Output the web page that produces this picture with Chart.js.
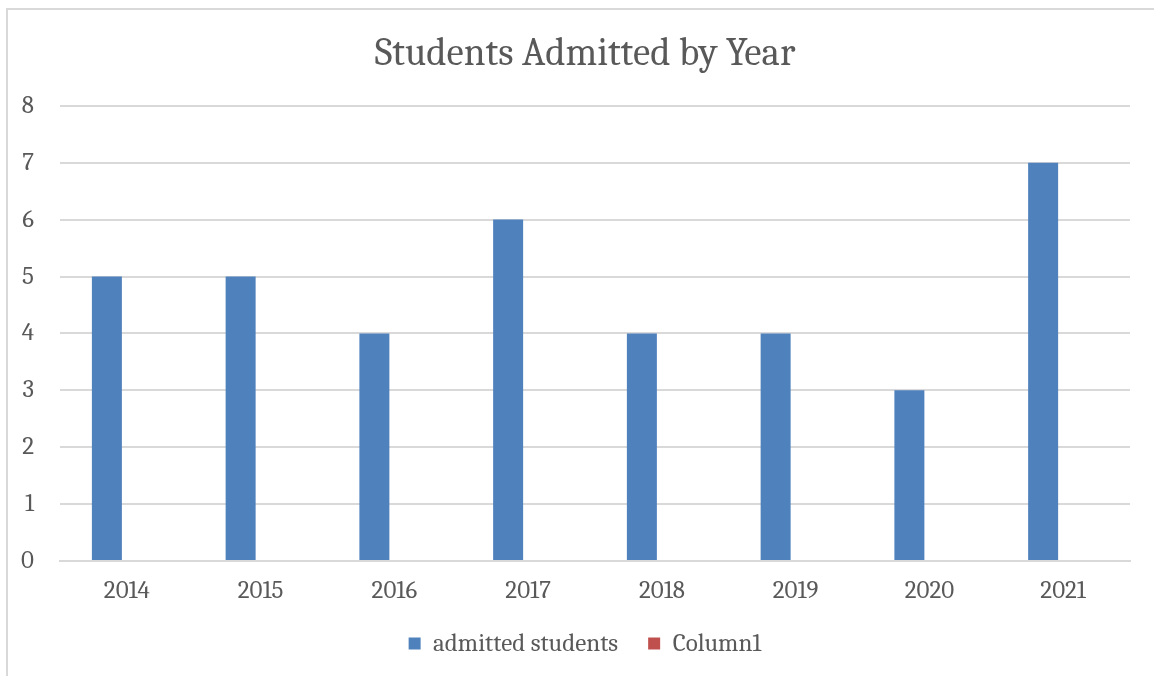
<!DOCTYPE html>
<html>
<head>
<meta charset="utf-8">
<script src="https://cdn.jsdelivr.net/npm/chart.js"></script>
<style>
    html, body { margin: 0; padding: 0; background: #fff; overflow: hidden; }
    #frame {
        position: absolute; left: 6px; top: 8px;
        width: 1170px; height: 700px;
        border: 2px solid #d9d9d9; box-sizing: border-box;
    }
    #wrap { position: absolute; left: 0; top: 0; width: 1154px; height: 676px; }
</style>
</head>
<body>
<div id="frame"></div>
<div id="wrap"><canvas id="myChart" width="1154" height="676"></canvas></div>
<script>
const years = ['2014', '2015', '2016', '2017', '2018', '2019', '2020', '2021'];
const admitted = [5, 5, 4, 6, 4, 4, 3, 7];
const column1 = [null, null, null, null, null, null, null, null];
const yTicks = [0, 1, 2, 3, 4, 5, 6, 7, 8];

const textColor = '#595959';
const fontFamily = "Cambria, 'DejaVu Serif', serif";

const dataset = {
    labels: years,
    datasets: [
        {
            label: 'admitted students',
            data: admitted,
            backgroundColor: '#4f81bd',
            borderWidth: 0,
        },
        {
            label: 'Column1',
            data: column1,
            backgroundColor: '#c0504d',
            borderWidth: 0,
        }
    ]
};

let ctx = document.getElementById('myChart').getContext('2d');
new Chart(ctx, {
    type: 'bar',
    data: dataset,
    options: {
        responsive: false,
        animation: false,
        categoryPercentage: 0.598,
        barPercentage: 0.75,
        layout: {
            // left padding pushes title/legend centre to the right like the original frame
            padding: { left: 40, right: 24, top: 0, bottom: 10 }
        },
        plugins: {
            title: {
                display: true,
                text: 'Students Admitted by Year',
                color: textColor,
                font: { family: fontFamily, size: 39, weight: 'normal' },
                padding: { top: 31, bottom: 28 }
            },
            legend: {
                position: 'bottom',
                labels: {
                    color: textColor,
                    font: { family: fontFamily, size: 25 },
                    boxWidth: 12,
                    boxHeight: 12,
                    padding: 30
                }
            },
            tooltip: { enabled: false }
        },
        scales: {
            x: {
                afterFit: function(scale) {
                    // labels may hang below, the legend has its own top padding
                    scale.height = 40;
                },
                grid: { display: false, drawTicks: false },
                border: { color: '#d9d9d9', width: 2 },
                ticks: {
                    color: textColor,
                    font: { family: fontFamily, size: 25 },
                    padding: 15
                }
            },
            y: {
                min: 0,
                max: 8,
                afterBuildTicks: function(scale) {
                    scale.ticks = yTicks.map(v => ({ value: v }));
                },
                afterFit: function(scale) {
                    scale.width = 20;
                },
                grid: { color: '#d9d9d9', lineWidth: 2, drawTicks: false },
                border: { display: false },
                ticks: {
                    // mirrored so the labels aren't clipped to the narrow axis box
                    mirror: true,
                    crossAlign: 'far',
                    color: textColor,
                    font: { family: fontFamily, size: 25 },
                    padding: -39
                }
            }
        }
    }
});
</script>
</body>
</html>
